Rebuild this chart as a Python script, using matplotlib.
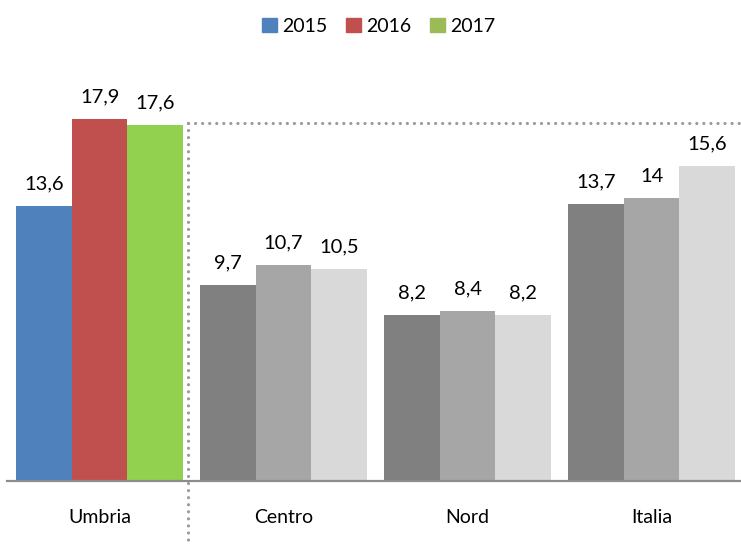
import matplotlib
matplotlib.use("Agg")
import matplotlib.pyplot as plt
import matplotlib.patches as mpatches
import numpy as np

plt.rcParams["font.family"] = ["Lato", "DejaVu Sans"]

# data
areas = ["Umbria", "Centro", "Nord", "Italia"]
years = ["2015", "2016", "2017"]
v2015 = [13.6, 9.7, 8.2, 13.7]
v2016 = [17.9, 10.7, 8.4, 14.0]
v2017 = [17.6, 10.5, 8.2, 15.6]

umbria_colors = ["#4F81BD", "#C0504D", "#92D050"]
legend_colors = ["#4F81BD", "#C0504D", "#9BBB59"]
gray_colors = ["#808080", "#A6A6A6", "#D9D9D9"]


def fmt(v):
    return f"{v:g}".replace(".", ",")


fig = plt.figure(figsize=(7.41, 5.44), dpi=100)
ax = fig.add_axes([7 / 741, 63 / 544, 734 / 741, 404 / 544])

x = np.arange(len(areas))
w = 0.3025
series = [v2015, v2016, v2017]
for j, vals in enumerate(series):
    cols = [umbria_colors[j]] + [gray_colors[j]] * (len(areas) - 1)
    pos = x + (j - 1) * w
    ax.bar(pos, vals, width=w, color=cols, linewidth=0, zorder=2)
    for px, v in zip(pos, vals):
        ax.annotate(fmt(v), (px, v), textcoords="offset points", xytext=(0, 12),
                    ha="center", va="baseline", fontsize=14.5, color="black")

ax.set_xlim(-0.503, 3.486)
ax.set_ylim(0, 20)

# dotted separator around Umbria
sep_x = 0.48
top = v2017[0] + 0.1
dot = dict(color="#9A9A9A", lw=2.3, linestyle=(0, (0.01, 2.2)),
           dash_capstyle="round", clip_on=False, zorder=3)
ax.plot([sep_x, 3.486], [top, top], **dot)
ax.plot([sep_x, sep_x], [top, -3.2], **dot)

for s in ["top", "right", "left"]:
    ax.spines[s].set_visible(False)
ax.spines["bottom"].set_color("#8C8C8C")
ax.spines["bottom"].set_linewidth(1.6)
ax.set_yticks([])
ax.set_xticks(x)
ax.set_xticklabels(areas, fontsize=14)
ax.tick_params(axis="x", length=0, pad=20)

handles = [mpatches.Patch(color=c, label=y) for c, y in zip(legend_colors, years)]
fig.legend(handles=handles, loc="center", bbox_to_anchor=(0.511, 0.951), ncol=3,
           frameon=False, fontsize=14, handlelength=0.75, handleheight=0.75,
           handletextpad=0.25, columnspacing=1.0)

fig.savefig("out.png", dpi=100)
